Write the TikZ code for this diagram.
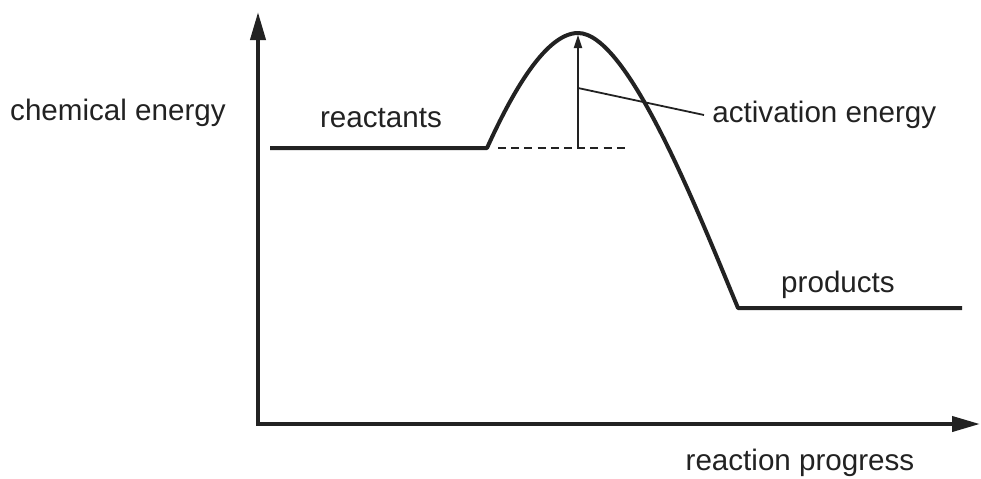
\documentclass[tikz,border=0pt]{standalone}
\usepackage{fontspec}
\setmainfont{Liberation Sans}
\usetikzlibrary{arrows.meta, positioning, calc}
\definecolor{enDark}{HTML}{222222}
\begin{document}
\begin{tikzpicture}[
  x=0.5pt, y=-0.5pt,
  lbl/.style={font=\fontsize{14.8}{17}\selectfont, inner sep=0pt, text=enDark},
  axis/.style={-{Triangle[length=14pt, width=7.5pt]}, line width=2pt, draw=enDark},
  curve/.style={line width=2pt, draw=enDark, line join=round},
  thin/.style={line width=0.9pt, draw=enDark}
]
\useasboundingbox (0,0) rectangle (981,478);
\coordinate (o) at (258,424);
\coordinate (ytop) at (258,12);
\coordinate (xend) at (980,424);
\coordinate (r0) at (270,148);
\coordinate (r1) at (487,148);
\coordinate (peak) at (578,33);
\coordinate (p0) at (738,308);
\coordinate (p1) at (962,308);
\coordinate (base) at (578,148);
\coordinate (dashend) at (628,148);
\coordinate (lead) at (578,88);
\draw[axis] (o) -- (ytop);
\draw[axis] ([xshift=-1pt]o) -- (xend);
\draw[curve] (r0) -- (r1) .. controls (507,104) and (543,33) .. (peak)
  .. controls (628,33) and (698,212) .. (p0) -- (p1);
\draw[thin, dash pattern=on 4pt off 2.6pt] ([xshift=5.5pt]r1) -- (dashend);
\draw[thin, -{Triangle[length=6.5pt, width=4pt]}] (base) -- ([yshift=-1pt]peak);
\node[lbl] (energy) at (118,113) {chemical energy};
\node[lbl] (reac) at (381,118) {reactants};
\node[lbl, anchor=west] (act) at (712,115) {activation energy};
\node[lbl] (prod) at (838,285) {products};
\node[lbl] (progress) at (800,463) {reaction progress};
\draw[thin] (lead) -- ([xshift=-4pt]act.west);
\end{tikzpicture}
\end{document}
